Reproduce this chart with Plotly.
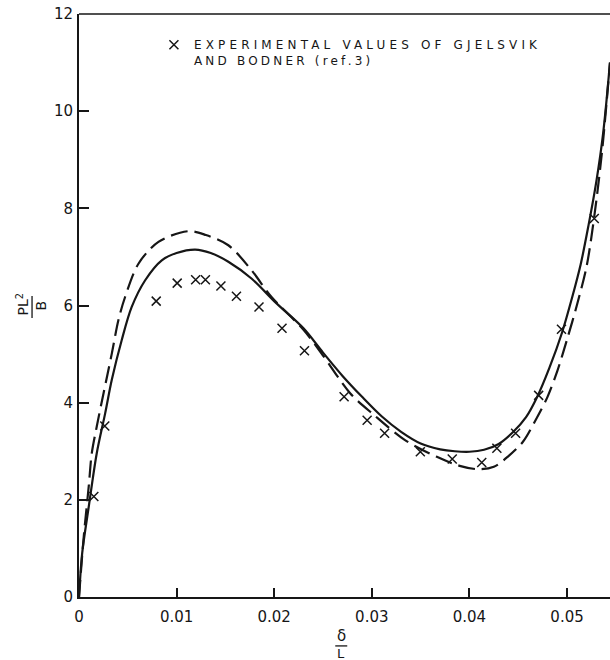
import plotly.graph_objects as go

# ---- data ----
solid_x = [0, 0.00033, 0.0010, 0.00182, 0.00268, 0.00336, 0.00438, 0.0054, 0.00678,
           0.00848, 0.0100, 0.0119, 0.0135, 0.0153, 0.0177, 0.0201, 0.0230,
           0.0250, 0.0270, 0.0290, 0.0310, 0.0330, 0.0350, 0.0370, 0.0385, 0.0400,
           0.0415, 0.0430, 0.0445, 0.0458, 0.0469, 0.0482, 0.0495, 0.0505, 0.0514,
           0.0522, 0.0530, 0.0537, 0.0544]
solid_y = [0, 0.91, 1.86, 2.96, 3.78, 4.47, 5.29, 5.97, 6.52,
           6.93, 7.08, 7.15, 7.08, 6.90, 6.55, 6.07, 5.53,
           5.03, 4.55, 4.12, 3.72, 3.40, 3.16, 3.04, 3.00, 2.99,
           3.03, 3.15, 3.40, 3.70, 4.10, 4.72, 5.45, 6.15, 6.85,
           7.65, 8.55, 9.55, 11.0]

dash_x = [0, 0.00049, 0.0010, 0.00131, 0.00182, 0.00251, 0.00336, 0.00404, 0.00473,
          0.00609, 0.00814, 0.0112, 0.0130, 0.0153, 0.0177, 0.0197, 0.0230,
          0.0250, 0.0278, 0.0302, 0.0334, 0.0366, 0.0390, 0.0409, 0.0425, 0.0440,
          0.0455, 0.0468, 0.0480, 0.0490, 0.0500, 0.0510, 0.0520, 0.0528, 0.0536,
          0.0544]
dash_y = [0, 1.25, 2.28, 2.96, 3.51, 4.19, 5.01, 5.70, 6.18,
          6.86, 7.31, 7.53, 7.45, 7.24, 6.72, 6.18, 5.50,
          4.97, 4.19, 3.75, 3.23, 2.89, 2.70, 2.63, 2.68, 2.90,
          3.20, 3.65, 4.12, 4.65, 5.30, 6.00, 6.80, 7.85, 9.20,
          11.0]

exp_x = [0.00152, 0.00264, 0.00791, 0.01006, 0.01195, 0.01295, 0.01454, 0.01613,
         0.01844, 0.02080, 0.02310, 0.02716, 0.02952, 0.03131, 0.03497, 0.03824,
         0.04126, 0.04281, 0.04473, 0.04709, 0.04943, 0.05279]
exp_y = [2.07, 3.52, 6.09, 6.46, 6.53, 6.53, 6.40, 6.19,
         5.97, 5.53, 5.07, 4.12, 3.64, 3.37, 2.99, 2.84,
         2.77, 3.06, 3.37, 4.15, 5.51, 7.79]

x_ticks = [0, 0.01, 0.02, 0.03, 0.04, 0.05]
x_tick_text = ["0", "0.01", "0.02", "0.03", "0.04", "0.05"]
y_ticks = [0, 2, 4, 6, 8, 10, 12]
y_tick_text = ["0", "2", "4", "6", "8", "10", "12"]

legend_text = ('<span style="letter-spacing:4.15px">EXPERIMENTAL VALUES OF GJELSVIK</span><br>'
               '<span style="letter-spacing:3.2px">AND BODNER (ref.3)</span>')

INK = "#161616"
FONT = "DejaVu Sans"

W, H = 610, 660
ML, MT, MB, MR = 78.5, 13.5, 62.5, 0
PW = W - ML - MR
PH = H - MT - MB

fig = go.Figure()
fig.add_trace(go.Scatter(x=solid_x, y=solid_y, mode="lines", showlegend=False,
                         line=dict(color=INK, width=2.2, shape="spline", smoothing=0.9)))
fig.add_trace(go.Scatter(x=dash_x, y=dash_y, mode="lines", showlegend=False,
                         line=dict(color=INK, width=2.2, shape="spline", smoothing=0.9,
                                   dash="17px,7px")))
fig.add_trace(go.Scatter(x=exp_x, y=exp_y, mode="markers", name=legend_text,
                         marker=dict(symbol="x-thin", size=9, color=INK,
                                     line=dict(width=1.5, color=INK))))


def px_to_paper_x(px):
    return (px - ML) / PW


def px_to_paper_y(py):
    return (H - MB - py) / PH


annotations = [
    # y-axis label  PL^2 / B  (rotated fraction)
    dict(text="PL<sup>2</sup>", x=px_to_paper_x(22), y=px_to_paper_y(305), textangle=-90,
         font=dict(size=14, color=INK, family=FONT)),
    dict(text="B", x=px_to_paper_x(40), y=px_to_paper_y(306), textangle=-90,
         font=dict(size=14, color=INK, family=FONT)),
    # x-axis label  delta / L
    dict(text="δ", x=px_to_paper_x(341), y=px_to_paper_y(637), textangle=0,
         font=dict(size=15, color=INK, family=FONT)),
    dict(text="L", x=px_to_paper_x(341), y=px_to_paper_y(654), textangle=0,
         font=dict(size=13, color=INK, family=FONT)),
]
for a in annotations:
    a.update(xref="paper", yref="paper", showarrow=False, xanchor="center", yanchor="middle")

shapes = [
    # top frame line
    dict(type="line", xref="paper", yref="paper", x0=0, x1=1, y0=1, y1=1,
         line=dict(color=INK, width=1.5)),
    # fraction bars
    dict(type="line", xref="paper", yref="paper",
         x0=px_to_paper_x(31.5), x1=px_to_paper_x(31.5),
         y0=px_to_paper_y(296), y1=px_to_paper_y(318), line=dict(color=INK, width=1.3)),
    dict(type="line", xref="paper", yref="paper",
         x0=px_to_paper_x(335), x1=px_to_paper_x(347),
         y0=px_to_paper_y(646.5), y1=px_to_paper_y(646.5), line=dict(color=INK, width=1.3)),
]

fig.update_layout(
    width=W, height=H,
    margin=dict(l=ML, r=MR, t=MT, b=MB, pad=0),
    paper_bgcolor="white", plot_bgcolor="white",
    font=dict(family=FONT, color=INK, size=15),
    showlegend=True,
    legend=dict(x=px_to_paper_x(153.5), y=px_to_paper_y(30), xanchor="left", yanchor="top",
                valign="top", bgcolor="rgba(0,0,0,0)", borderwidth=0,
                font=dict(size=12, family=FONT, color=INK)),
    annotations=annotations,
    shapes=shapes,
    xaxis=dict(range=[0, PW / 9770.0], tickmode="array", tickvals=x_ticks, ticktext=x_tick_text,
               ticks="inside", ticklen=9, tickwidth=1.5, tickcolor=INK,
               showline=True, linecolor=INK, linewidth=1.8, showgrid=False, zeroline=False,
               tickfont=dict(size=15, family=FONT, color=INK), ticklabelstandoff=5),
    yaxis=dict(range=[0, 12], tickmode="array", tickvals=y_ticks, ticktext=y_tick_text,
               ticks="inside", ticklen=10, tickwidth=1.5, tickcolor=INK,
               showline=True, linecolor=INK, linewidth=1.8, showgrid=False, zeroline=False,
               tickfont=dict(size=15, family=FONT, color=INK), ticklabelstandoff=1),
)

fig.write_html("out.html")
